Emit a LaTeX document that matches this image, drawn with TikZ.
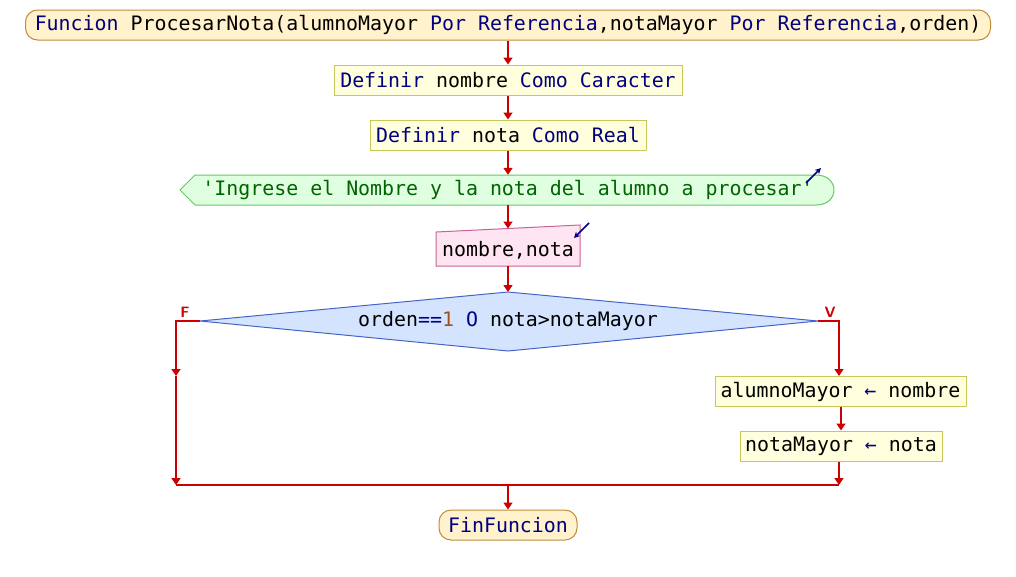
\documentclass[tikz,border=0pt]{standalone}
\usepackage{fontspec}
\setmonofont{DejaVu Sans Mono}
\usetikzlibrary{arrows.meta}
\definecolor{kw}{RGB}{0,0,128}
\definecolor{strc}{RGB}{0,100,0}
\definecolor{numc}{RGB}{160,80,30}
\definecolor{flow}{RGB}{204,0,0}
\definecolor{termfill}{RGB}{255,242,204}
\definecolor{termdraw}{RGB}{192,140,60}
\definecolor{boxfill}{RGB}{255,255,221}
\definecolor{boxdraw}{RGB}{200,200,90}
\definecolor{outfill}{RGB}{224,255,224}
\definecolor{outdraw}{RGB}{100,200,100}
\definecolor{infill}{RGB}{255,228,242}
\definecolor{indraw}{RGB}{200,100,150}
\definecolor{decfill}{RGB}{212,228,255}
\definecolor{decdraw}{RGB}{70,100,200}
\begin{document}
\begin{tikzpicture}[x=1pt,y=-1pt,
  every node/.style={font=\ttfamily\fontsize{19.9}{22}\selectfont, inner sep=0pt},
  term/.style={draw=termdraw, fill=termfill, line width=1pt, rounded corners=12pt, minimum height=30pt},
  procbox/.style={draw=boxdraw, fill=boxfill, line width=1pt, minimum height=30pt},
  flowline/.style={draw=flow, line width=1.6pt},
  arr/.style={flowline, -{Triangle[length=7pt,width=9pt]}},
  iomark/.style={draw=kw, line width=1.6pt, -{Stealth[length=6pt,width=6pt]}},
  branch/.style={text=flow, font=\sffamily\bfseries\fontsize{15}{16}\selectfont}
]
\useasboundingbox (0,0) rectangle (1016,576);

% start terminal
\node[term, minimum width=965pt] (t1) at (508,25)
  {\textcolor{kw}{Funcion} ProcesarNota(alumnoMayor \textcolor{kw}{Por Referencia},notaMayor \textcolor{kw}{Por Referencia},orden)};

% definitions
\node[procbox, minimum width=348pt] (d1) at (508,80)
  {\textcolor{kw}{Definir} nombre \textcolor{kw}{Como Caracter}};
\node[procbox, minimum width=276pt] (d2) at (508,135)
  {\textcolor{kw}{Definir} nota \textcolor{kw}{Como Real}};

% output shape
\path[draw=outdraw, fill=outfill, line width=1pt]
  (180,190) -- (195,175) -- (816,175) .. controls (840,175) and (840,205) .. (816,205) -- (195,205) -- cycle;
\node[minimum width=656pt, minimum height=30pt] (out) at (508,190)
  {\textcolor{strc}{'Ingrese el Nombre y la nota del alumno a procesar'}};
\coordinate (om1) at (806,183);
\coordinate (om2) at (821,168);
\draw[iomark] (om1) -- (om2);

% input shape
\path[draw=indraw, fill=infill, line width=1pt]
  (436,232) -- (580,225) -- (580,266) -- (436,266) -- cycle;
\node (inp) at (508,250) {nombre,nota};
\coordinate (inTop) at (508,228.5);
\coordinate (im1) at (589,223);
\coordinate (im2) at (574,238);
\draw[iomark] (im1) -- (im2);

% decision
\coordinate (dl) at (200,321);
\coordinate (dr) at (818,321);
\coordinate (dt) at (508,292);
\coordinate (db) at (508,351);
\path[draw=decdraw, fill=decfill, line width=1pt] (dl) -- (dt) -- (dr) -- (db) -- cycle;
\node (dec) at (508,321)
  {orden\textcolor{kw}{==}\textcolor{numc}{1} \textcolor{kw}{O} nota>notaMayor};
\node[branch] (lf) at (185,312) {F};
\node[branch] (lv) at (830,312) {V};

% true branch boxes
\node[procbox, minimum width=251pt] (a1) at (840.5,391.5)
  {alumnoMayor \textcolor{kw}{\char"2190} nombre};
\node[procbox, minimum width=202pt] (a2) at (841,446)
  {notaMayor \textcolor{kw}{\char"2190} nota};

% end terminal
\node[term, minimum width=138pt] (t2) at (508,525) {\textcolor{kw}{FinFuncion}};

% join coordinates
\coordinate (lc) at (176,321);
\coordinate (lm) at (176,376);
\coordinate (lj) at (176,485);
\coordinate (rc) at (839,321);
\coordinate (rj) at (839,485);
\coordinate (mj) at (508,485);

% connectors
\draw[arr] (t1.south) -- (d1.north);
\draw[arr] (d1.south) -- (d2.north);
\draw[arr] (d2.south) -- (out.north);
\draw[arr] (out.south) -- (inTop);
\draw[arr] (inp.south |- 0,266) -- (dt);
\draw[arr] (dl) -- (lc) -- (lm);
\draw[arr] (lm) -- (lj);
\draw[arr] (dr) -- (rc) -- (rc |- a1.north);
\draw[arr] (a1.south -| a2.north) -- (a2.north);
\draw[arr] (a2.south -| rj) -- (rj);
\draw[flowline] (lj) -- (rj);
\draw[arr] (mj) -- (t2.north);
\end{tikzpicture}
\end{document}
